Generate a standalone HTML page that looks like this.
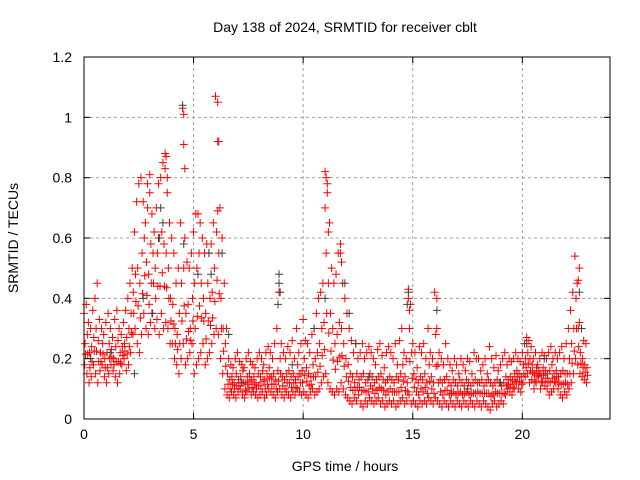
<!DOCTYPE html>
<html><head><meta charset="utf-8"><style>
html,body{margin:0;padding:0;background:#fff}
svg{display:block;font-family:"Liberation Sans",sans-serif}
</style></head><body>
<svg id="chart" width="640" height="480" viewBox="0 0 640 480">
<text x="345" y="32" font-size="14" text-anchor="middle">Day 138 of 2024, SRMTID for receiver cblt</text>
<text x="18" y="238" font-size="14" text-anchor="middle" transform="rotate(-90 18 238)">SRMTID / TECUs</text>
<text x="345" y="471" font-size="14" text-anchor="middle">GPS time / hours</text>
<g id="grid"></g><g id="marks"></g><g id="axes"></g>
</svg>
<script>
const xTicks=[0,5,10,15,20];
const yTicks=[0,0.2,0.4,0.6,0.8,1,1.2];
const yTickLabels=["0","0.2","0.4","0.6","0.8","1","1.2"];
const redHi=[.35,.38,.32,.30,.36,.40,.45,.33,.30,.28,.32,.35,.30,.27,.33,.36,.30,.28,.32,.36,
.40,.45,.50,.62,.72,.78,.80,.72,.65,.70,.75,.68,.62,.70,.78,.80,.85,.88,.75,.65,
.60,.55,.45,.50,.65,1.03,.60,.52,.50,.55,.62,.68,.68,.65,.60,.55,.58,.55,.58,.65,
1.07,.92,.70,.60,.45,.30,.20,.18,.17,.20,.22,.19,.18,.17,.20,.22,.19,.18,.17,.20,
.22,.20,.18,.22,.24,.22,.20,.25,.30,.42,.25,.22,.20,.24,.22,.26,.20,.30,.22,.25,
.33,.26,.25,.22,.28,.30,.35,.40,.42,.45,.82,.78,.65,.50,.45,.48,.55,.58,.45,.40,
.35,.30,.26,.22,.25,.20,.22,.25,.20,.22,.24,.22,.20,.18,.23,.25,.21,.17,.22,.24,
.22,.20,.25,.18,.26,.30,.22,.20,.43,.38,.25,.22,.17,.24,.22,.25,.20,.30,.22,.20,
.42,.30,.22,.20,.18,.25,.20,.18,.16,.20,.18,.15,.20,.18,.16,.20,.19,.15,.22,.20,
.20,.16,.18,.20,.15,.24,.20,.17,.21,.16,.18,.20,.22,.18,.20,.19,.20,.22,.20,.19,
.22,.25,.27,.26,.24,.20,.22,.18,.20,.22,.21,.20,.22,.24,.20,.22,.20,.22,.24,.20,
.25,.30,.36,.42,.54,.45,.32,.30,.26,.25];
const redMid=[.25,.28,.22,.24,.27,.30,.26,.22,.25,.20,.22,.25,.23,.20,.24,.26,.22,.24,.25,.27,
.30,.35,.42,.48,.50,.45,.55,.60,.52,.48,.58,.55,.50,.55,.60,.62,.58,.55,.50,.40,
.38,.30,.28,.35,.45,.50,.35,.38,.30,.40,.45,.50,.55,.45,.40,.35,.45,.40,.42,.50,
.62,.55,.40,.30,.25,.15,.13,.14,.12,.15,.13,.14,.16,.12,.14,.15,.13,.14,.12,.15,
.14,.16,.13,.15,.17,.14,.15,.13,.16,.20,.14,.13,.15,.16,.14,.15,.13,.18,.15,.16,
.20,.17,.15,.14,.18,.20,.22,.25,.30,.32,.55,.45,.35,.30,.25,.28,.32,.30,.25,.20,
.18,.15,.14,.12,.15,.13,.14,.15,.12,.13,.15,.14,.12,.13,.14,.15,.13,.12,.13,.14,
.13,.12,.14,.13,.15,.18,.14,.12,.30,.22,.15,.13,.12,.14,.13,.15,.12,.18,.14,.12,
.28,.18,.13,.12,.13,.14,.12,.11,.13,.12,.11,.13,.12,.11,.13,.12,.11,.12,.13,.12,
.12,.13,.11,.12,.13,.12,.11,.12,.13,.12,.11,.12,.14,.13,.14,.13,.15,.16,.15,.14,
.18,.20,.22,.20,.18,.15,.17,.16,.15,.17,.16,.15,.16,.18,.15,.16,.14,.15,.16,.15,
.15,.20,.25,.30,.40,.30,.22,.20,.18,.17];
const redLo=[.18,.15,.12,.14,.18,.15,.12,.16,.18,.14,.12,.15,.18,.16,.14,.12,.15,.18,.20,.16,
.18,.22,.28,.30,.25,.22,.28,.35,.30,.28,.32,.35,.30,.33,.28,.35,.30,.32,.30,.25,
.25,.20,.18,.15,.20,.25,.18,.20,.22,.25,.15,.18,.20,.22,.25,.18,.20,.22,.25,.28,
.30,.28,.20,.15,.10,.08,.07,.09,.08,.07,.09,.10,.08,.07,.09,.10,.08,.09,.08,.07,
.08,.09,.07,.08,.10,.09,.08,.07,.09,.10,.08,.07,.09,.08,.07,.09,.08,.10,.09,.08,
.09,.08,.07,.09,.10,.08,.09,.10,.12,.14,.15,.12,.10,.09,.08,.10,.09,.12,.10,.08,
.07,.06,.05,.07,.06,.08,.05,.04,.06,.05,.07,.06,.05,.06,.07,.05,.06,.04,.05,.06,
.05,.06,.04,.05,.06,.07,.05,.06,.08,.05,.06,.05,.04,.06,.05,.06,.05,.07,.06,.05,
.07,.06,.05,.04,.06,.05,.04,.06,.05,.04,.06,.05,.04,.06,.05,.04,.06,.05,.04,.06,
.05,.04,.06,.05,.04,.03,.05,.06,.04,.05,.06,.05,.08,.10,.09,.08,.10,.12,.10,.09,
.12,.14,.15,.12,.13,.10,.12,.14,.10,.12,.11,.10,.08,.09,.10,.12,.10,.08,.07,.09,
.08,.10,.12,.15,.20,.18,.15,.14,.13,.12];
const redExtraT=[4.55,4.55,4.6,6.1,6.15,6.1,3.7,3.75,3.8,2.9,3.0,11.05,11.1,11.0,11.15,11.7,11.75,14.8,14.85,16.1,22.6,22.55];
const redExtraV=[1.01,.91,.83,1.05,.92,.69,.83,.87,.80,.78,.81,.80,.75,.70,.62,.55,.52,.40,.36,.40,.50,.46];
const grayT=[8.9,8.9,8.95,8.85,4.5,4.55,3.5,3.6,3.4,2.7,5.7,5.8,6.3,6.6,11.0,11.9,12.1,14.8,14.75,16.1,20.2,22.6,22.7,1.2,0.3,2.3,3.1,5.2,7.2,9.5,13.0,17.5,19.0,21.0,10.5,12.4];
const grayV=[.48,.45,.42,.38,1.04,.58,.70,.65,.60,.40,.55,.48,.55,.28,.40,.45,.35,.42,.38,.36,.25,.42,.30,.22,.20,.15,.35,.48,.12,.18,.14,.10,.12,.20,.30,.25];
const X0=84,X1=610,Y0=419,Y1=57;
const sx=v=>X0+(v/24)*(X1-X0);
const sy=v=>Y0-(v/1.2)*(Y0-Y1);
const NS="http://www.w3.org/2000/svg";
function mk(tag,attrs,parent){const e=document.createElementNS(NS,tag);for(const k in attrs)e.setAttribute(k,attrs[k]);parent.appendChild(e);return e;}
const grid=document.getElementById('grid'),axes=document.getElementById('axes'),marks=document.getElementById('marks');
xTicks.forEach(t=>{
 if(t>0){const g=mk('line',{x1:sx(t),x2:sx(t),y1:Y0,y2:Y1,stroke:'#a0a0a0','stroke-dasharray':'3,3'},grid);
 
 }
 mk('line',{x1:sx(t),x2:sx(t),y1:Y0,y2:Y0-6,stroke:'#000'},axes);
 mk('line',{x1:sx(t),x2:sx(t),y1:Y1,y2:Y1+6,stroke:'#000'},axes);
 const l=mk('text',{x:sx(t),y:Y0+20,'font-size':14,'text-anchor':'middle'},axes);l.textContent=t;
 
 
});
yTicks.forEach((t,i)=>{
 if(t>0&&t<1.2){const g=mk('line',{x1:X0,x2:X1,y1:sy(t),y2:sy(t),stroke:'#a0a0a0','stroke-dasharray':'3,3'},grid);
 
 }
 mk('line',{x1:X0,x2:X0+6,y1:sy(t),y2:sy(t),stroke:'#000'},axes);
 mk('line',{x1:X1,x2:X1-6,y1:sy(t),y2:sy(t),stroke:'#000'},axes);
 const l=mk('text',{x:X0-12,y:sy(t)+5,'font-size':14,'text-anchor':'end'},axes);l.textContent=yTickLabels[i];
 
 
});
const fr=mk('rect',{x:X0,y:Y1,width:X1-X0,height:Y0-Y1,fill:'none',stroke:'#000'},axes);


function plus(t,v,col,name){
 const x=sx(t),y=sy(v);
 const p=mk('path',{d:`M${x-4},${y}h8M${x},${y-4}v8`,stroke:col,'stroke-width':1,fill:'none'},marks);
 
 
}
redHi.forEach((v,i)=>{const t=i*0.1;
 plus(t,v,'#ff0000','red-point');
 plus(t+0.05,redMid[i],'#ff0000','red-point');
 plus(t+0.03,redLo[i],'#ff0000','red-point');
 plus(t+0.07,(redMid[i]+redLo[i])/2,'#ff0000','red-point');
});
grayT.forEach((t,i)=>plus(t,grayV[i],'#404040','gray-point'));
redExtraT.forEach((t,i)=>plus(t,redExtraV[i],'#ff0000','red-point'));
</script>
</body></html>
